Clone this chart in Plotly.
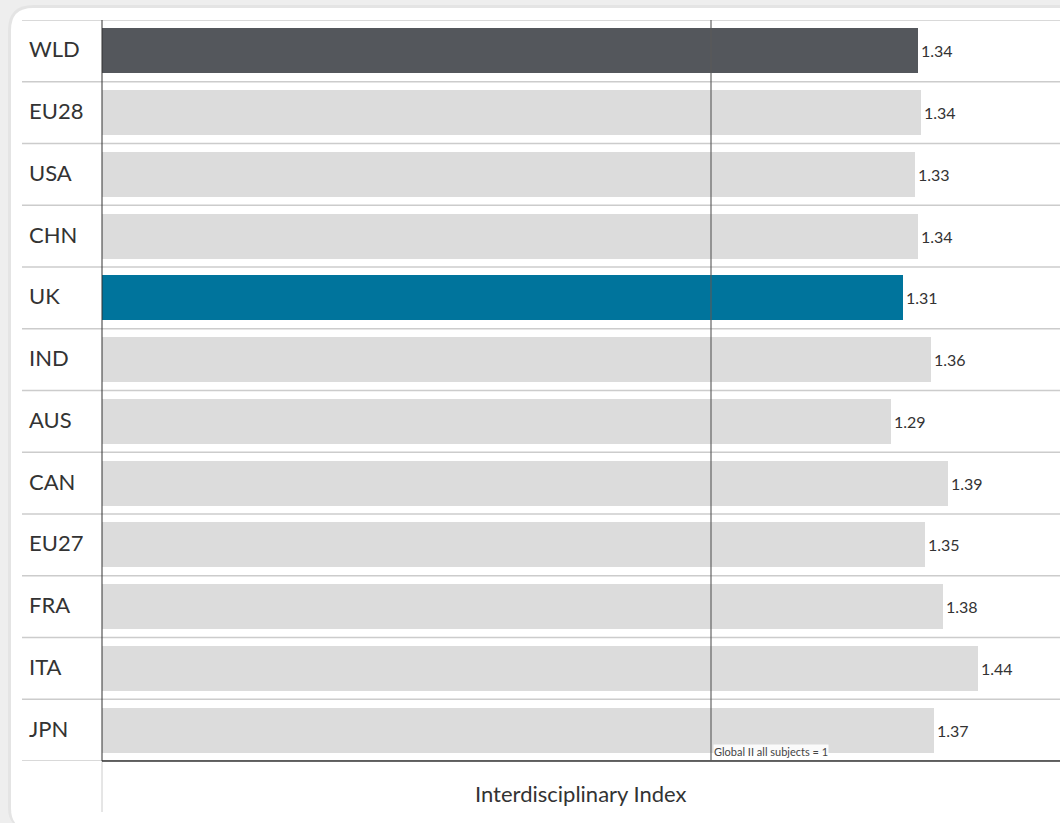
import plotly.graph_objects as go

categories = ["WLD", "EU28", "USA", "CHN", "UK", "IND", "AUS", "CAN", "EU27", "FRA", "ITA", "JPN"]
values = [1.340, 1.345, 1.335, 1.340, 1.315, 1.361, 1.296, 1.389, 1.351, 1.381, 1.438, 1.366]
value_labels = ["1.34", "1.34", "1.33", "1.34", "1.31", "1.36", "1.29", "1.39", "1.35", "1.38", "1.44", "1.37"]
reference_value = 1.0
highlight = {"WLD": "#54575c", "UK": "#00749c"}
default_color = "#dcdcdc"

W, H = 1060, 823
L, R, T, B = 102, 0, 20, 62
pw = W - L - R
ph = H - T - B

def px_x(p):
    return (p - L) / pw

def px_y(p):
    return (H - B - p) / ph

font_family = "Lato, 'Open Sans', sans-serif"
ypos = list(range(len(categories)))
colors = [highlight.get(c, default_color) for c in categories]

fig = go.Figure()
fig.add_trace(go.Bar(
    x=values, y=ypos, orientation="h",
    marker=dict(color=colors, line=dict(width=0)),
    width=0.73,
    text=value_labels, textposition="outside", constraintext="none",
    textfont=dict(family=font_family, size=16, color="#333333"),
    cliponaxis=False, hoverinfo="skip",
))

shapes = []
# card background
x0, x1 = px_x(11), px_x(1075)
y0, y1 = px_y(830), px_y(8)
rx, ry = 22 / pw, 22 / ph
shapes.append(dict(type="path", xref="paper", yref="paper", layer="below",
    path=f"M {x0-3/pw},{y1-ry} Q {x0-3/pw},{y1+3/ph} {x0+rx},{y1+3/ph} L {x1},{y1+3/ph} L {x1},{y0} L {x0+rx},{y0} Q {x0-3/pw},{y0} {x0-3/pw},{y0+ry} Z",
    fillcolor="rgba(0,0,0,0.04)", line=dict(width=0)))
shapes.append(dict(type="path", xref="paper", yref="paper", layer="below",
    path=f"M {x0},{y1-ry} Q {x0},{y1} {x0+rx},{y1} L {x1},{y1} L {x1},{y0} L {x0+rx},{y0} Q {x0},{y0} {x0},{y0+ry} Z",
    fillcolor="white", line=dict(width=0)))
# row separators
for k in range(len(categories) + 1):
    shapes.append(dict(type="line", xref="paper", yref="y", x0=px_x(22), x1=1.0,
                       y0=k - 0.5, y1=k - 0.5, line=dict(color="#cccccc", width=1.5), layer="below"))
# left axis extension
shapes.append(dict(type="line", xref="paper", yref="paper", x0=0, x1=0, y0=px_y(812), y1=0,
                   line=dict(color="#cccccc", width=1)))
# left axis line
shapes.append(dict(type="line", xref="paper", yref="paper", x0=0, x1=0, y0=0, y1=1,
                   line=dict(color="#333333", width=1)))
# bottom axis line
shapes.append(dict(type="line", xref="paper", yref="paper", x0=0, x1=1, y0=0, y1=0,
                   line=dict(color="#333333", width=1.5)))
# reference line
shapes.append(dict(type="line", xref="x", yref="paper", x0=reference_value, x1=reference_value, y0=0, y1=1,
                   line=dict(color="rgba(90,90,90,0.75)", width=1.5)))

annotations = []
for i, c in enumerate(categories):
    annotations.append(dict(x=px_x(27), y=i, xref="paper", yref="y", text=c, showarrow=False,
                            xanchor="left", yanchor="middle", yshift=2,
                            font=dict(family=font_family, size=22, color="#333333")))
annotations.append(dict(x=reference_value, y=px_y(751), xref="x", yref="paper",
                        text="Global II all subjects = 1", showarrow=False, xanchor="left", yanchor="middle",
                        xshift=2, bgcolor="rgba(255,255,255,0.85)", borderpad=0,
                        font=dict(family=font_family, size=11, color="#444444")))
annotations.append(dict(x=0.5, y=px_y(793), xref="paper", yref="paper", text="Interdisciplinary Index",
                        showarrow=False, xanchor="center", yanchor="middle",
                        font=dict(family=font_family, size=22, color="#333333")))

fig.update_layout(
    width=W, height=H,
    margin=dict(l=L, r=R, t=T, b=B, pad=0),
    paper_bgcolor="#eeeeee", plot_bgcolor="rgba(0,0,0,0)",
    showlegend=False, bargap=0,
    xaxis=dict(range=[0, pw / 609], showgrid=False, zeroline=False, showticklabels=False,
               showline=False, ticks="", fixedrange=True),
    yaxis=dict(range=[len(categories) - 0.5, -0.5], showgrid=False, zeroline=False,
               showticklabels=False, showline=False, ticks="", fixedrange=True),
    shapes=shapes, annotations=annotations,
)

fig.write_html("out.html", config={"displayModeBar": False},
               post_script="document.body.style.margin='0';document.body.style.overflow='hidden';")
